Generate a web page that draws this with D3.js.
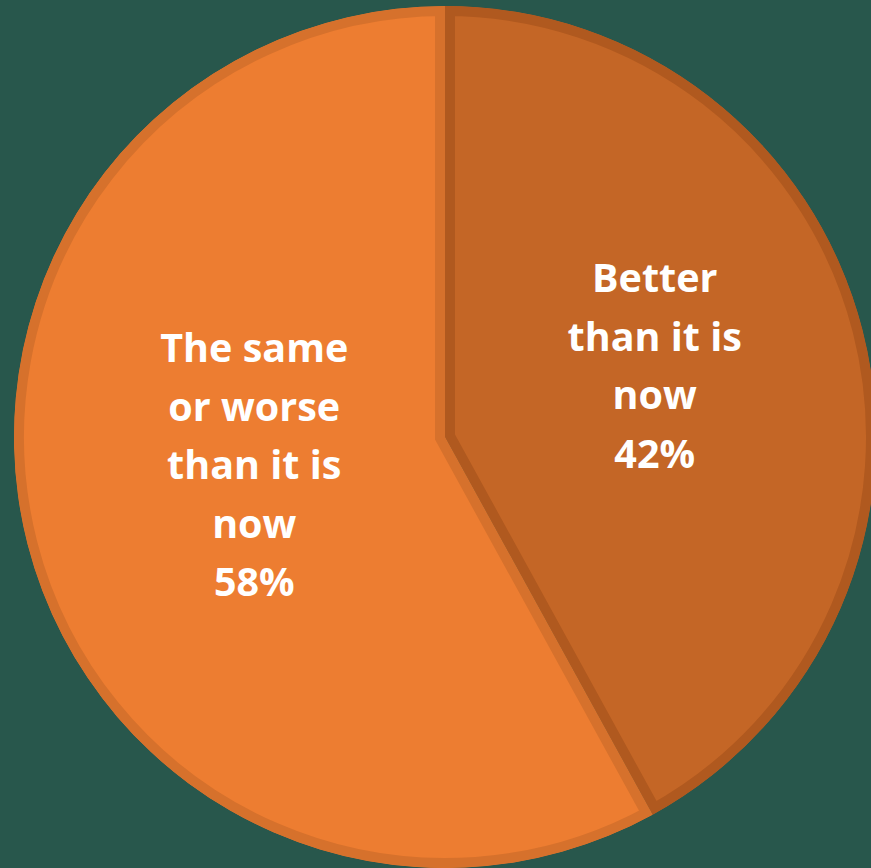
<!DOCTYPE html>
<html>
<head>
<meta charset="utf-8">
<script src="https://cdn.jsdelivr.net/npm/d3@7"></script>
<style>
  html, body { margin: 0; padding: 0; background: #28574C; }
  svg { display: block; }
</style>
</head>
<body>
<svg id="chart" width="871" height="868"></svg>
<script>
// Survey answers and their shares (percent)
const categories = ["Better than it is now", "The same or worse than it is now"];
const values = [42, 58];
const labelLines = [
  ["Better", "than it is", "now", "42%"],
  ["The same", "or worse", "than it is", "now", "58%"]
];
const fills = ["#C46626", "#ED7D31"];
const edges = ["#B0591F", "#D6712C"];

const width = 871, height = 868;
const cx = 445, cy = 437, radius = 431;

const svg = d3.select("#chart");
const g = svg.append("g").attr("transform", `translate(${cx},${cy})`);

const pie = d3.pie().sort(null).value(d => d);
const arcs = pie(values);
const arc = d3.arc().innerRadius(0).outerRadius(radius);

const defs = svg.append("defs");
arcs.forEach((a, i) => {
  defs.append("clipPath").attr("id", "clip" + i)
    .append("path").attr("d", arc(a));
});

// Each slice: fill plus an inner border band clipped to its own shape
g.selectAll("path.slice")
  .data(arcs)
  .join("path")
  .attr("class", "slice")
  .attr("d", arc)
  .attr("fill", (d, i) => fills[i])
  .attr("stroke", (d, i) => edges[i])
  .attr("stroke-width", 20)
  .attr("stroke-linejoin", "miter")
  .attr("clip-path", (d, i) => `url(#clip${i})`);

// Labels placed at a mid radius inside each slice
const labelArc = d3.arc().innerRadius(radius * 0.5).outerRadius(radius * 0.5);
const lineH = 58.5;
const offsets = [[1, -17], [18, -25]];

arcs.forEach((a, i) => {
  const [x, y] = labelArc.centroid(a);
  const lines = labelLines[i];
  const top = y + offsets[i][1] - (lines.length - 1) * lineH / 2;
  const t = g.append("text")
    .attr("text-anchor", "middle")
    .attr("font-family", "'Open Sans', 'Liberation Sans', sans-serif")
    .attr("font-weight", "bold")
    .attr("font-size", 39.5)
    .attr("fill", "#FFFFFF");
  lines.forEach((ln, k) => {
    t.append("tspan")
      .attr("x", x + offsets[i][0])
      .attr("y", top + k * lineH)
      .attr("dy", "0.35em")
      .text(ln);
  });
});
</script>
</body>
</html>
